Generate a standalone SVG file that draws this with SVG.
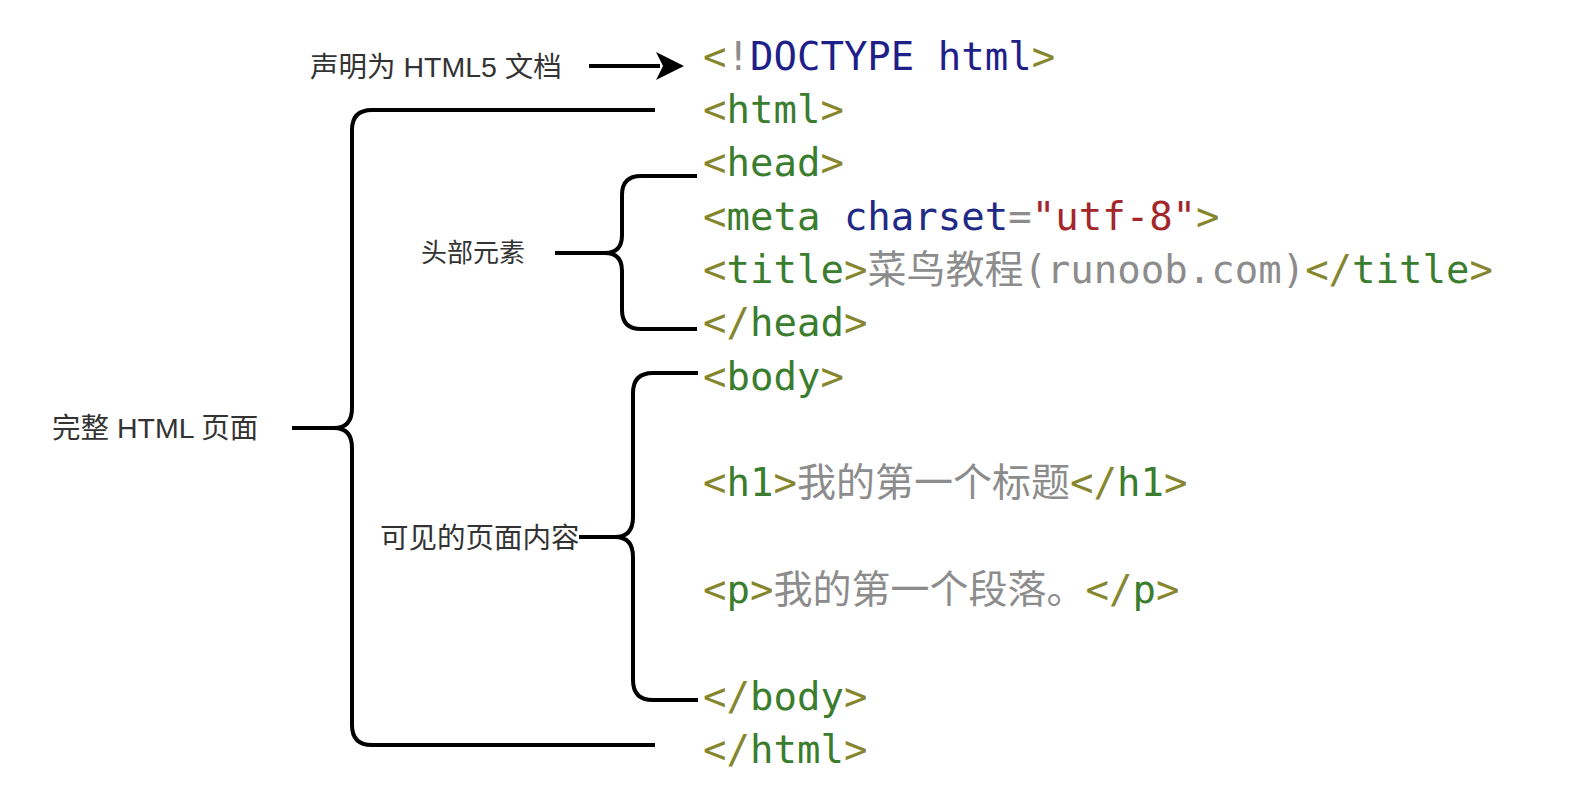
<svg xmlns="http://www.w3.org/2000/svg" width="1570" height="790" viewBox="0 0 1570 790">
<style>
.code{font-family:"DejaVu Sans Mono","Noto Sans CJK SC",monospace;font-size:39px;}
.br{fill:#86862f;}
.tg{fill:#3a7d2e;}
.dt{fill:#1f1f8a;}
.at{fill:#1f2a86;}
.gr{fill:#8c8c8c;}
.st{fill:#a3262a;}
.lbl{font-family:"Liberation Sans","Noto Sans CJK SC",sans-serif;font-size:28.5px;fill:#333333;}
.con{fill:none;stroke:#000000;stroke-width:4;stroke-linecap:butt;stroke-linejoin:round;}
</style>
<rect width="1570" height="790" fill="#ffffff"/>

<g id="connectors">
<line class="con" x1="589" y1="66" x2="660" y2="66"/>
<path d="M656,52 L684,66 L656,80 L663,66 Z" fill="#000"/>
<path class="con" d="M655,110 H372 Q352,110 352,130 V408 Q352,428 334,428 H292 M334,428 Q352,428 352,448 V725 Q352,745 372,745 H655"/>
<path class="con" d="M697,176 H641 Q622,176 622,195 V235 Q622,253 605,253 H555 M605,253 Q622,253 622,271 V310 Q622,329 641,329 H697"/>
<path class="con" d="M698,373 H653 Q633,373 633,393 V517 Q633,537 615,537 H579 M615,537 Q633,537 633,557 V680 Q633,700 653,700 H698"/>
</g>

<g id="label-doctype"><text class="lbl" x="310" y="77">声明为 HTML5 文档</text></g>
<g id="label-head"><text class="lbl" x="421" y="262" style="font-size:26px">头部元素</text></g>
<g id="label-page"><text class="lbl" x="52" y="438">完整 HTML 页面</text></g>
<g id="label-body"><text class="lbl" x="380" y="548">可见的页面内容</text></g>

<g id="code">
<g id="line-doctype"><text class="code" x="703" y="70"><tspan class="br">&lt;</tspan><tspan class="gr">!</tspan><tspan class="dt">DOCTYPE html</tspan><tspan class="br">&gt;</tspan></text></g>
<g id="line-html"><text class="code" x="703" y="123"><tspan class="br">&lt;</tspan><tspan class="tg">html</tspan><tspan class="br">&gt;</tspan></text></g>
<g id="line-head"><text class="code" x="703" y="176"><tspan class="br">&lt;</tspan><tspan class="tg">head</tspan><tspan class="br">&gt;</tspan></text></g>
<g id="line-meta"><text class="code" x="703" y="230"><tspan class="br">&lt;</tspan><tspan class="tg">meta</tspan><tspan class="at"> charset</tspan><tspan class="gr">=</tspan><tspan class="st">"utf-8"</tspan><tspan class="br">&gt;</tspan></text></g>
<g id="line-title"><text class="code" x="703" y="283"><tspan class="br">&lt;</tspan><tspan class="tg">title</tspan><tspan class="br">&gt;</tspan><tspan class="gr">菜鸟教程(runoob.com)</tspan><tspan class="br">&lt;/</tspan><tspan class="tg">title</tspan><tspan class="br">&gt;</tspan></text></g>
<g id="line-head-close"><text class="code" x="703" y="336"><tspan class="br">&lt;/</tspan><tspan class="tg">head</tspan><tspan class="br">&gt;</tspan></text></g>
<g id="line-body"><text class="code" x="703" y="390"><tspan class="br">&lt;</tspan><tspan class="tg">body</tspan><tspan class="br">&gt;</tspan></text></g>
<g id="line-h1"><text class="code" x="703" y="496"><tspan class="br">&lt;</tspan><tspan class="tg">h1</tspan><tspan class="br">&gt;</tspan><tspan class="gr">我的第一个标题</tspan><tspan class="br">&lt;/</tspan><tspan class="tg">h1</tspan><tspan class="br">&gt;</tspan></text></g>
<g id="line-p"><text class="code" x="703" y="603"><tspan class="br">&lt;</tspan><tspan class="tg">p</tspan><tspan class="br">&gt;</tspan><tspan class="gr">我的第一个段落。</tspan><tspan class="br">&lt;/</tspan><tspan class="tg">p</tspan><tspan class="br">&gt;</tspan></text></g>
<g id="line-body-close"><text class="code" x="703" y="710"><tspan class="br">&lt;/</tspan><tspan class="tg">body</tspan><tspan class="br">&gt;</tspan></text></g>
<g id="line-html-close"><text class="code" x="703" y="763"><tspan class="br">&lt;/</tspan><tspan class="tg">html</tspan><tspan class="br">&gt;</tspan></text></g>
</g>
</svg>
